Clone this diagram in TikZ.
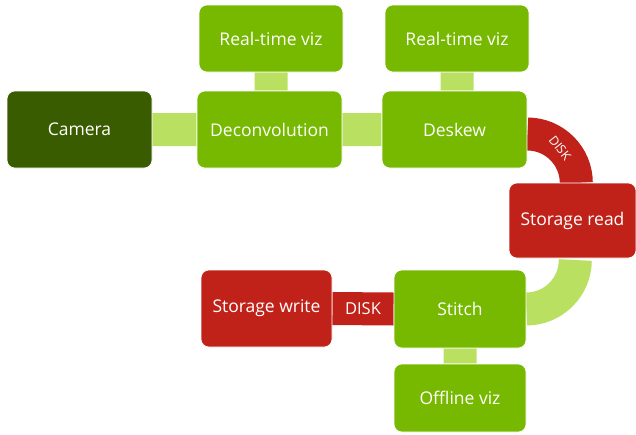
\documentclass[tikz,border=0pt]{standalone}
\usepackage{fontspec}
\setmainfont{Open Sans}
\usetikzlibrary{backgrounds}

\definecolor{nvgreen}{HTML}{76B900}
\definecolor{darkgreen}{HTML}{3A5C00}
\definecolor{lightgreen}{HTML}{BAE062}
\definecolor{diskred}{HTML}{C0221A}

\begin{document}
\begin{tikzpicture}[x=1pt, y=1pt,
    stage/.style = {fill = nvgreen, draw = white, line width = 0.6pt, rounded corners = 8pt,
                     text = white, font = \fontsize{17.5}{20}\selectfont,
                     minimum width = 145pt, minimum height = 77pt, inner sep = 0pt},
    viz/.style   = {stage, minimum width = 144pt, minimum height = 67pt},
    store/.style = {stage, fill = diskred, minimum width = 131pt, minimum height = 77pt},
    link/.style  = {draw = lightgreen, line width = 33pt},
    disk/.style  = {draw = diskred, line width = 33pt},
    disklabel/.style = {text = white, font = \fontsize{16.5}{18}\selectfont, inner sep = 0pt}]
  \useasboundingbox (0,0) rectangle (636,-434);

  % top row
  \node[stage, fill = darkgreen] (camera) at (79.5,-129.5)  {Camera};
  \node[stage] (deconv)  at (269.5,-129.5) {Deconvolution};
  \node[stage] (deskew)  at (454.5,-129.5) {Deskew};
  \node[viz]   (rtvizA)  at (271,-38.5)    {Real-time viz};
  \node[viz]   (rtvizB)  at (457,-38.5)    {Real-time viz};

  % bottom part
  \node[store, minimum width = 127pt, minimum height = 75pt] (read) at (572.5,-220.5) {Storage read};
  \node[stage, minimum width = 132pt, minimum height = 78pt] (stitch) at (460,-309) {Stitch};
  \node[store] (write)   at (266.5,-308.5) {Storage write};
  \node[viz, minimum width = 132pt, minimum height = 68pt] (offviz) at (460,-398) {Offline viz};

  \begin{scope}[on background layer]
    \path[link] (camera) -- (deconv)
                (deconv) -- (deskew)
                (rtvizA.south) -- (rtvizA.south |- deconv.north)
                (rtvizB.south) -- (rtvizB.south |- deskew.north)
                (stitch.south) -- (offviz.north)
                (stitch.east) arc[start angle = -90, end angle = 0, radius = 49];
    \path[disk] (deskew.east) ++(0,-4.5) arc[start angle = 90, end angle = 0, radius = 49];
    \path[disk] (write.east) -- (stitch.west) node[midway, disklabel] (wdisk) {DISK};
  \end{scope}
  \node[disklabel, font = \fontsize{12.5}{14}\selectfont, rotate = -52] (rdisk) at (560,-148) {DISK};
\end{tikzpicture}
\end{document}
